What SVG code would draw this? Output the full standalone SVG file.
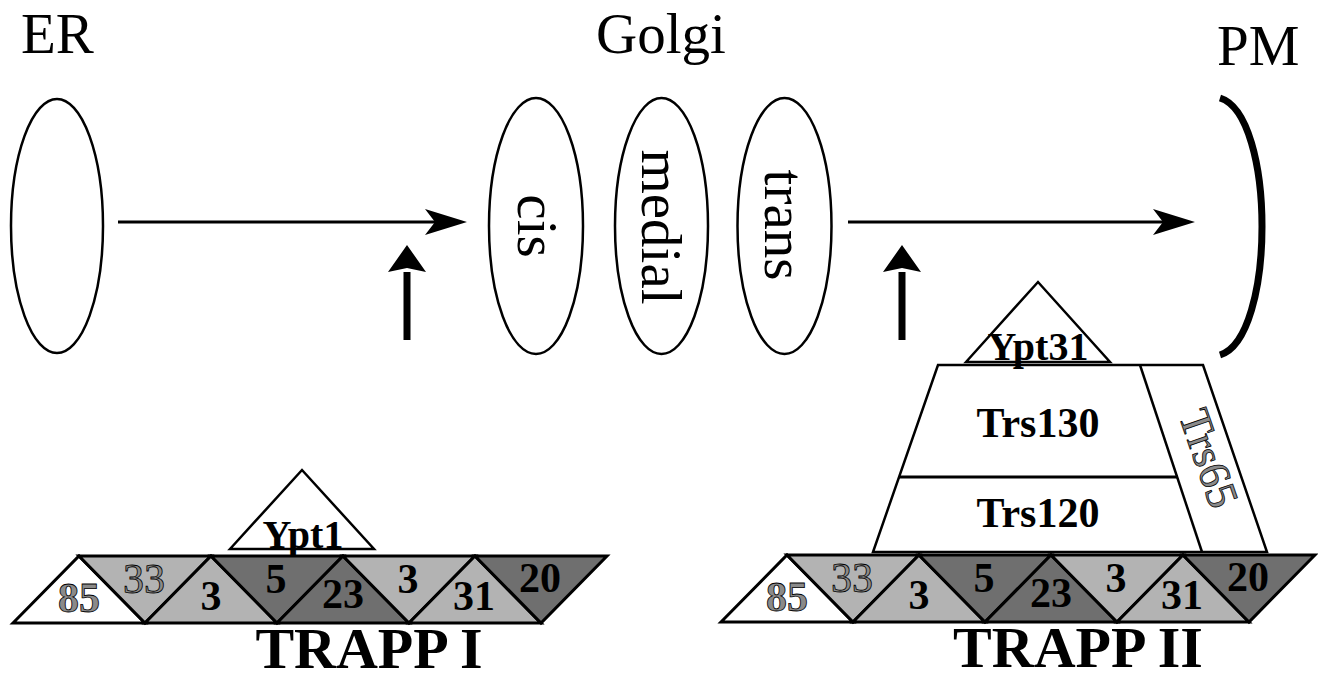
<svg xmlns="http://www.w3.org/2000/svg" width="1318" height="673" viewBox="0 0 1318 673">
<style>
.lbl{font-family:"Liberation Serif","Times New Roman",serif;font-size:57px;fill:#000}
.org{fill:#fff;stroke:#000;stroke-width:2.5}
.tri{stroke:#000;stroke-width:3;stroke-linejoin:miter}
.w{fill:#fff}.l{fill:#b3b3b3}.d{fill:#6f6f6f}
.num{font-family:"Liberation Serif","Times New Roman",serif;font-size:42px;font-weight:bold;fill:#000;text-anchor:middle}
.gnum{font-family:"Liberation Serif","Times New Roman",serif;font-size:42px;fill:#8a8a8a;stroke:#000;stroke-width:0.8;text-anchor:middle}
.bt{font-family:"Liberation Serif","Times New Roman",serif;font-weight:bold;fill:#000;text-anchor:middle}
.box{fill:#fff;stroke:#000;stroke-width:2.5}
.conn{stroke:#000;fill:none}
</style>
<defs>
<marker id="thin" markerUnits="userSpaceOnUse" markerWidth="50" markerHeight="30" viewBox="-20 -15 50 30" refX="0" refY="0" orient="auto">
<path d="M27,0 L-15,-13 L-5,0 L-15,13 Z" fill="#000"/>
</marker>
<marker id="thick" markerUnits="userSpaceOnUse" markerWidth="40" markerHeight="44" viewBox="-8 -22 40 44" refX="0" refY="0" orient="auto">
<path d="M27,0 L0,-19 L4,0 L0,19 Z" fill="#000"/>
</marker>
</defs>
<rect width="1318" height="673" fill="#fff"/>

<g id="titles">
<text class="lbl" x="21" y="53">ER</text>
<text class="lbl" x="596" y="53">Golgi</text>
<text class="lbl" x="1217" y="65">PM</text>
</g>

<g id="er"><ellipse class="org" cx="57" cy="226" rx="46" ry="127"/></g>
<g id="cis"><ellipse class="org" cx="536" cy="226" rx="47" ry="128"/>
<text class="lbl" text-anchor="middle" transform="translate(518,226) rotate(90)">cis</text></g>
<g id="medial"><ellipse class="org" cx="661.5" cy="226" rx="46.5" ry="128"/>
<text class="lbl" text-anchor="middle" transform="translate(642,227) rotate(90)">medial</text></g>
<g id="trans"><ellipse class="org" cx="784.5" cy="226" rx="47" ry="128"/>
<text class="lbl" text-anchor="middle" transform="translate(765,225) rotate(90)">trans</text></g>
<g id="pm"><path d="M1220,98 C1276,115 1276,338 1220,355" fill="none" stroke="#000" stroke-width="7"/></g>

<g id="connectors">
<line class="conn" x1="118" y1="222" x2="440" y2="222" stroke-width="3" marker-end="url(#thin)"/>
<line class="conn" x1="848" y1="222" x2="1168" y2="222" stroke-width="3" marker-end="url(#thin)"/>
<line class="conn" x1="407" y1="340" x2="407" y2="272" stroke-width="7" marker-end="url(#thick)"/>
<line class="conn" x1="902" y1="340" x2="902" y2="272" stroke-width="7" marker-end="url(#thick)"/>
</g>

<g id="ypt1">
<polygon class="box" points="230,549 302,470 374,549"/>
<text class="bt" x="303" y="548" font-size="40">Ypt1</text>
</g>

<g id="trapp1">
<g id="t1-85"><polygon class="tri w" points="13,623 79,556 145,623"/><text class="gnum" font-weight="bold" x="79" y="612">85</text></g>
<g id="t1-33"><polygon class="tri l" points="79,556 211,556 145,623"/><text class="gnum" x="144" y="593">33</text></g>
<g id="t1-3a"><polygon class="tri l" points="145,623 211,556 277,623"/><text class="num" x="211" y="610">3</text></g>
<g id="t1-5"><polygon class="tri d" points="211,556 343,556 277,623"/><text class="num" x="276" y="593">5</text></g>
<g id="t1-23"><polygon class="tri d" points="277,623 343,556 409,623"/><text class="num" x="343" y="608">23</text></g>
<g id="t1-3b"><polygon class="tri l" points="343,556 475,556 409,623"/><text class="num" x="408" y="593">3</text></g>
<g id="t1-31"><polygon class="tri l" points="409,623 475,556 541,623"/><text class="num" x="474" y="610">31</text></g>
<g id="t1-20"><polygon class="tri d" points="475,556 607,556 541,623"/><text class="num" x="540" y="592">20</text></g>
<text class="bt" x="369" y="668" font-size="58">TRAPP I</text>
</g>

<g id="trs-complex">
<polygon class="box" points="938,365 1203,365 1267,552 873,552"/>
<line x1="1140" y1="365" x2="1202" y2="552" stroke="#000" stroke-width="2.5"/>
<line x1="899" y1="477" x2="1178" y2="477" stroke="#000" stroke-width="3"/>
<text class="bt" x="1038" y="437" font-size="42">Trs130</text>
<text class="bt" x="1038" y="527" font-size="42">Trs120</text>
<text font-family="Liberation Serif, Times New Roman, serif" font-size="44" fill="#8a8a8a" stroke="#000" stroke-width="0.8" text-anchor="middle" transform="translate(1195,463) rotate(71)">Trs65</text>
</g>

<g id="ypt31">
<polygon class="box" points="966,362 1038,282 1110,362"/>
<text class="bt" x="1038" y="360" font-size="40">Ypt31</text>
</g>

<g id="trapp2" transform="translate(708,-1)">
<g id="t2-85"><polygon class="tri w" points="13,623 79,556 145,623"/><text class="gnum" font-weight="bold" x="79" y="612">85</text></g>
<g id="t2-33"><polygon class="tri l" points="79,556 211,556 145,623"/><text class="gnum" x="144" y="593">33</text></g>
<g id="t2-3a"><polygon class="tri l" points="145,623 211,556 277,623"/><text class="num" x="211" y="610">3</text></g>
<g id="t2-5"><polygon class="tri d" points="211,556 343,556 277,623"/><text class="num" x="276" y="593">5</text></g>
<g id="t2-23"><polygon class="tri d" points="277,623 343,556 409,623"/><text class="num" x="343" y="608">23</text></g>
<g id="t2-3b"><polygon class="tri l" points="343,556 475,556 409,623"/><text class="num" x="408" y="593">3</text></g>
<g id="t2-31"><polygon class="tri l" points="409,623 475,556 541,623"/><text class="num" x="474" y="610">31</text></g>
<g id="t2-20"><polygon class="tri d" points="475,556 607,556 541,623"/><text class="num" x="540" y="592">20</text></g>
<text class="bt" x="370" y="668" font-size="58">TRAPP II</text>
</g>
</svg>
